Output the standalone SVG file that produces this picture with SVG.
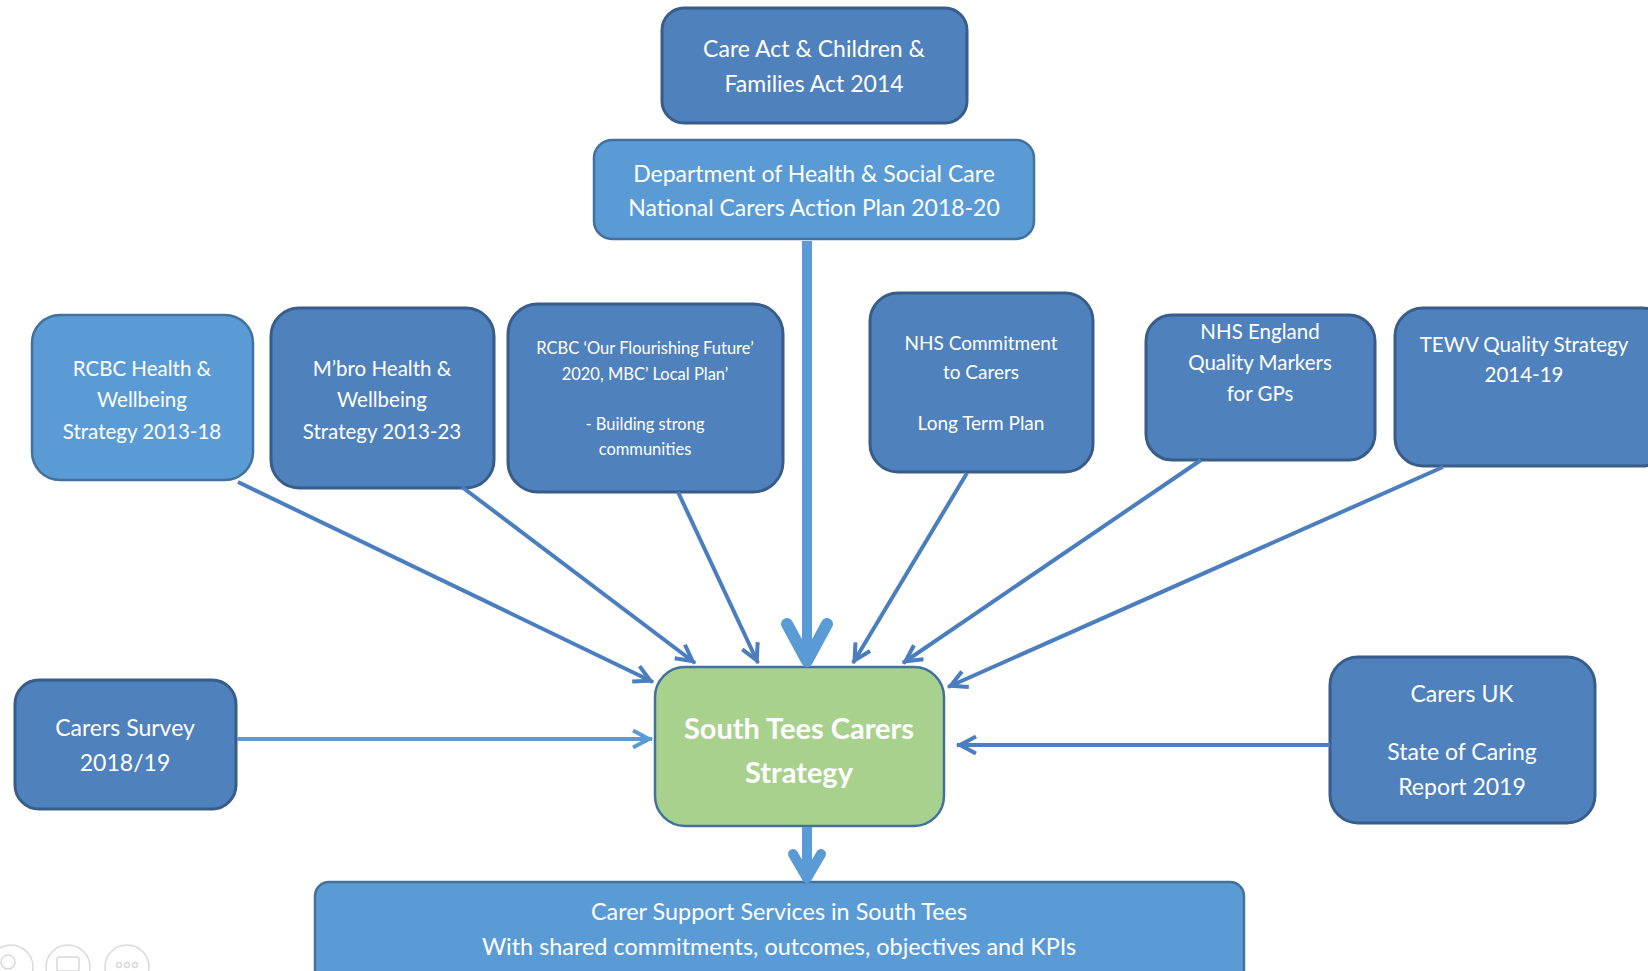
<svg xmlns="http://www.w3.org/2000/svg" width="1648" height="971" viewBox="0 0 1648 971">
  <style>
    .dark { fill: #4F81BD; stroke: #385D8A; stroke-width: 3; }
    .light { fill: #5B9BD5; stroke: #41719C; stroke-width: 2.5; }
    .green { fill: #A9D18E; stroke: #41719C; stroke-width: 2.5; }
    text { font-family: Lato, "Open Sans", "Liberation Sans", sans-serif; fill: #FFFFFF; text-anchor: middle; }
    .t23 { font-size: 23px; }
    .t24 { font-size: 23.4px; }
    .t21 { font-size: 20.5px; }
    .t19 { font-size: 19px; }
    .t16 { font-size: 16.5px; }
    .bold { font-size: 29px; font-weight: bold; }
    .c-dark { stroke: #4A7EBF; stroke-width: 4; fill: none; }
    .c-light { stroke: #5B9BD5; stroke-width: 4; fill: none; }
    .thick { stroke: #5B9BD5; stroke-width: 10; fill: none; }
    .head-thick { stroke: #5B9BD5; stroke-width: 12; fill: none; stroke-linecap: round; stroke-linejoin: round; }
    .head-mid { stroke: #5B9BD5; stroke-width: 10; fill: none; stroke-linecap: round; stroke-linejoin: round; }
    .ui { fill: none; stroke: #D9D9D9; stroke-width: 1.5; }
  </style>
  <defs>
    <marker id="arrDark" markerUnits="userSpaceOnUse" viewBox="-24 -12 28 24" refX="0" refY="0" markerWidth="28" markerHeight="24" orient="auto">
      <path d="M-19,-8.5 L-3,0 L-19,8.5" fill="none" stroke="#4A7EBF" stroke-width="4"/>
    </marker>
    <marker id="arrLight" markerUnits="userSpaceOnUse" viewBox="-24 -12 28 24" refX="0" refY="0" markerWidth="28" markerHeight="24" orient="auto">
      <path d="M-19,-8.5 L-3,0 L-19,8.5" fill="none" stroke="#5B9BD5" stroke-width="4"/>
    </marker>
  </defs>

  <rect width="1648" height="971" fill="#FFFFFF"/>

  <g id="n-care-act">
    <rect class="dark" x="662" y="8" width="305" height="115" rx="22"/>
    <text class="t23" x="814" y="57">Care Act &amp; Children &amp;</text>
    <text class="t23" x="814" y="92">Families Act 2014</text>
  </g>

  <g id="n-dhsc">
    <rect class="light" x="594" y="140" width="440" height="99" rx="18"/>
    <text class="t23" x="814" y="182">Department of Health &amp; Social Care</text>
    <text class="t23" x="814" y="216">National Carers Action Plan 2018-20</text>
  </g>

  <g id="n-rcbc-hw">
    <rect class="light" x="32" y="315" width="221" height="165" rx="28"/>
    <text class="t21" x="142" y="376">RCBC Health &amp;</text>
    <text class="t21" x="142" y="407">Wellbeing</text>
    <text class="t21" x="142" y="439">Strategy 2013-18</text>
  </g>

  <g id="n-mbro-hw">
    <rect class="dark" x="271" y="308" width="223" height="180" rx="28"/>
    <text class="t21" x="382" y="376">M’bro Health &amp;</text>
    <text class="t21" x="382" y="407">Wellbeing</text>
    <text class="t21" x="382" y="439">Strategy 2013-23</text>
  </g>

  <g id="n-rcbc-future">
    <rect class="dark" x="508" y="304" width="275" height="188" rx="30"/>
    <text class="t16" x="645" y="354">RCBC ‘Our Flourishing Future’</text>
    <text class="t16" x="645" y="380">2020, MBC’ Local Plan’</text>
    <text class="t16" x="645" y="430">- Building strong</text>
    <text class="t16" x="645" y="455">communities</text>
  </g>

  <g id="n-nhs-commitment">
    <rect class="dark" x="870" y="293" width="223" height="179" rx="28"/>
    <text class="t19" x="981" y="350">NHS Commitment</text>
    <text class="t19" x="981" y="379">to Carers</text>
    <text class="t19" x="981" y="430">Long Term Plan</text>
  </g>

  <g id="n-nhs-england">
    <rect class="dark" x="1146" y="315" width="229" height="145" rx="26"/>
    <text class="t21" x="1260" y="339">NHS England</text>
    <text class="t21" x="1260" y="370">Quality Markers</text>
    <text class="t21" x="1260" y="401">for GPs</text>
  </g>

  <g id="n-tewv">
    <rect class="dark" x="1395" y="308" width="275" height="158" rx="28"/>
    <text class="t21" x="1524" y="352">TEWV Quality Strategy</text>
    <text class="t21" x="1524" y="382">2014-19</text>
  </g>

  <g id="n-carers-survey">
    <rect class="dark" x="15" y="680" width="221" height="129" rx="24"/>
    <text class="t23" x="125" y="736">Carers Survey</text>
    <text class="t23" x="125" y="771">2018/19</text>
  </g>

  <g id="n-carers-uk">
    <rect class="dark" x="1330" y="657" width="265" height="166" rx="28"/>
    <text class="t23" x="1462" y="702">Carers UK</text>
    <text class="t23" x="1462" y="760">State of Caring</text>
    <text class="t23" x="1462" y="795">Report 2019</text>
  </g>

  <g id="n-south-tees">
    <rect class="green" x="655" y="667" width="289" height="159" rx="30"/>
    <text class="bold" x="799" y="739">South Tees Carers</text>
    <text class="bold" x="799" y="783">Strategy</text>
  </g>

  <g id="n-support-services">
    <rect class="light" x="315" y="882" width="929" height="110" rx="14"/>
    <text class="t24" x="779" y="920">Carer Support Services in South Tees</text>
    <text class="t24" x="779" y="955">With shared commitments, outcomes, objectives and KPIs</text>
  </g>

  <g id="connectors">
    <line class="c-dark" x1="238" y1="482" x2="653" y2="682" marker-end="url(#arrDark)"/>
    <line class="c-dark" x1="462" y1="487" x2="695" y2="663" marker-end="url(#arrDark)"/>
    <line class="c-dark" x1="678" y1="492" x2="758" y2="663" marker-end="url(#arrDark)"/>
    <line class="c-dark" x1="967" y1="473" x2="853" y2="663" marker-end="url(#arrDark)"/>
    <line class="c-dark" x1="1201" y1="460" x2="903" y2="663" marker-end="url(#arrDark)"/>
    <line class="c-dark" x1="1443" y1="467" x2="948" y2="687" marker-end="url(#arrDark)"/>
    <line class="c-light" x1="237" y1="739" x2="652" y2="739" marker-end="url(#arrLight)"/>
    <line class="c-dark" x1="1330" y1="745" x2="957" y2="745" marker-end="url(#arrDark)"/>
    <line class="thick" x1="807" y1="241" x2="807" y2="656"/>
    <path class="head-thick" d="M787,624 L807,661 L827,624"/>
    <line class="thick" x1="807" y1="827" x2="807" y2="874"/>
    <path class="head-mid" d="M793,854 L807,878 L821,854"/>
  </g>

  <g id="viewer-controls">
    <circle class="ui" cx="11" cy="967" r="22"/>
    <circle class="ui" cx="8" cy="962" r="7"/>
    <circle class="ui" cx="68" cy="967" r="22"/>
    <rect class="ui" x="57" y="957" width="22" height="14" rx="2"/>
    <circle class="ui" cx="127" cy="967" r="22"/>
    <circle class="ui" cx="119" cy="965" r="2.5"/>
    <circle class="ui" cx="127" cy="965" r="2.5"/>
    <circle class="ui" cx="135" cy="965" r="2.5"/>
  </g>
</svg>
